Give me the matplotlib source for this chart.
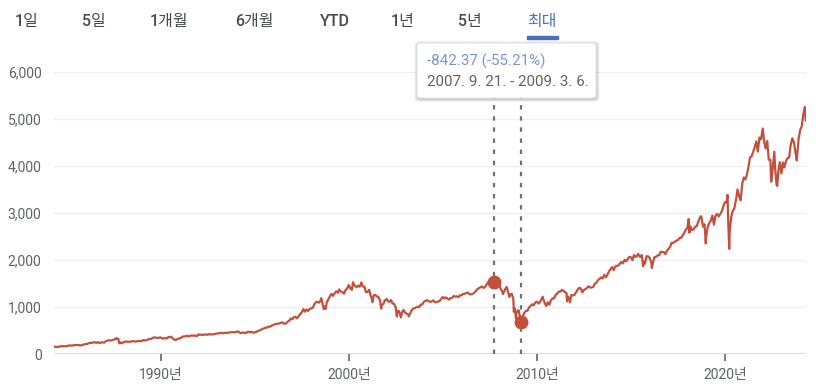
import matplotlib
matplotlib.use("Agg")
import matplotlib.pyplot as plt
from matplotlib.patches import FancyBboxPatch, Rectangle
import pandas as pd

plt.rcParams['font.family'] = ['Roboto', 'Noto Sans CJK KR', 'DejaVu Sans']

# ---- data: S&P 500 month-end closes (approx.) ----
start_month = "1984-04"
closes_1980s = [160.05, 150.55, 153.18, 150.66, 166.68, 166.10, 166.09, 163.58, 167.24,
                179.6, 181.2, 180.7, 179.8, 189.6, 191.9, 190.9, 188.6, 182.1, 189.8, 202.2, 211.3,
                211.8, 226.9, 238.9, 235.5, 247.4, 250.8, 236.1, 252.9, 231.3, 243.0, 249.2, 242.2,
                274.1, 284.2, 291.7, 288.4, 290.1, 304.0, 318.7, 329.8, 321.8, 251.8, 230.3, 247.1,
                257.1, 267.8, 258.9, 261.3, 262.2, 273.5, 272.0, 261.5, 271.9, 279.0, 273.7, 277.7,
                297.5, 288.9, 294.9, 309.6, 320.5, 318.0, 346.1, 351.5, 349.2, 340.4, 346.0, 353.4]
closes_1990s = [329.1, 331.9, 339.9, 330.8, 361.2, 358.0, 356.2, 322.6, 306.1, 304.0, 322.2, 330.2,
                343.9, 367.1, 375.2, 375.3, 389.8, 371.2, 387.8, 395.4, 387.9, 392.5, 375.2, 417.1,
                408.8, 412.7, 403.7, 415.0, 415.4, 408.1, 424.2, 414.0, 417.8, 418.7, 431.4, 435.7,
                438.8, 443.4, 451.7, 440.2, 450.2, 450.5, 448.1, 463.6, 458.9, 467.8, 461.8, 466.5,
                481.6, 467.1, 445.8, 450.9, 456.5, 444.3, 458.3, 475.5, 462.7, 472.4, 453.7, 459.3,
                470.4, 487.4, 500.7, 514.7, 533.4, 544.8, 562.1, 561.9, 584.4, 581.5, 605.4, 615.9,
                636.0, 640.4, 645.5, 654.2, 669.1, 670.6, 639.9, 652.0, 687.3, 705.3, 757.0, 740.7,
                786.2, 790.8, 757.1, 801.3, 848.3, 885.1, 954.3, 899.5, 947.3, 914.6, 955.4, 970.4,
                980.3, 1049.3, 1101.8, 1111.8, 1090.8, 1133.8, 1120.7, 957.3, 1017.0, 1098.7, 1163.6, 1229.2,
                1279.6, 1238.3, 1286.4, 1335.2, 1301.8, 1372.7, 1328.7, 1320.4, 1282.7, 1362.9, 1388.9, 1469.3]
closes_2000s = [1394.5, 1366.4, 1498.6, 1452.4, 1420.6, 1454.6, 1430.8, 1517.7, 1436.5, 1429.4, 1315.2, 1320.3,
                1366.0, 1239.9, 1160.3, 1249.5, 1255.8, 1224.4, 1211.2, 1133.6, 1040.9, 1059.8, 1139.5, 1148.1,
                1130.2, 1106.7, 1147.4, 1076.9, 1067.1, 989.8, 911.6, 916.1, 815.3, 885.8, 936.3, 879.8,
                855.7, 841.2, 848.2, 916.9, 963.6, 974.5, 990.3, 1008.0, 996.0, 1050.7, 1058.2, 1111.9,
                1131.1, 1144.9, 1126.2, 1107.3, 1120.7, 1140.8, 1101.7, 1104.2, 1114.6, 1130.2, 1173.8, 1211.9,
                1181.3, 1203.6, 1180.6, 1156.9, 1191.5, 1191.3, 1234.2, 1220.3, 1228.8, 1207.0, 1249.5, 1248.3,
                1280.1, 1280.7, 1294.9, 1310.6, 1270.1, 1270.2, 1276.7, 1303.8, 1335.9, 1377.9, 1400.6, 1418.3,
                1438.2, 1406.8, 1420.9, 1482.4, 1530.6, 1503.4, 1455.3, 1474.0, 1526.8, 1549.4, 1481.1, 1468.4,
                1378.6, 1330.6, 1322.7, 1385.6, 1400.4, 1280.0, 1267.4, 1282.8, 1166.4, 968.8, 896.2, 903.3,
                825.9, 735.1, 797.9, 872.8, 919.1, 919.3, 987.5, 1020.6, 1057.1, 1036.2, 1095.6, 1115.1]
closes_2010s = [1073.9, 1104.5, 1169.4, 1186.7, 1089.4, 1030.7, 1101.6, 1049.3, 1141.2, 1183.3, 1180.6, 1257.6,
                1286.1, 1327.2, 1325.8, 1363.6, 1345.2, 1320.6, 1292.3, 1218.9, 1131.4, 1253.3, 1247.0, 1257.6,
                1312.4, 1365.7, 1408.5, 1397.9, 1310.3, 1362.2, 1379.3, 1406.6, 1440.7, 1412.2, 1416.2, 1426.2,
                1498.1, 1514.7, 1569.2, 1597.6, 1630.7, 1606.3, 1685.7, 1633.0, 1681.6, 1756.5, 1805.8, 1848.4,
                1782.6, 1859.5, 1872.3, 1884.0, 1923.6, 1960.2, 1930.7, 2003.4, 1972.3, 2018.1, 2067.6, 2058.9,
                1995.0, 2104.5, 2067.9, 2085.5, 2107.4, 2063.1, 2103.8, 1972.2, 1920.0, 2079.4, 2080.4, 2043.9,
                1940.2, 1932.2, 2059.7, 2065.3, 2097.0, 2098.9, 2173.6, 2171.0, 2168.3, 2126.2, 2198.8, 2238.8,
                2278.9, 2363.6, 2362.7, 2384.2, 2411.8, 2423.4, 2470.3, 2471.7, 2519.4, 2575.3, 2647.6, 2673.6,
                2823.8, 2713.8, 2640.9, 2648.1, 2705.3, 2718.4, 2816.3, 2901.5, 2914.0, 2711.7, 2760.2, 2506.9,
                2704.1, 2784.5, 2834.4, 2945.8, 2752.1, 2941.8, 2980.4, 2926.5, 2976.7, 3037.6, 3141.0, 3230.8]
closes_2020s = [3225.5, 2954.2, 2584.6, 2912.4, 3044.3, 3100.3, 3271.1, 3500.3, 3363.0, 3270.0, 3621.6, 3756.1,
                3714.2, 3811.2, 3972.9, 4181.2, 4204.1, 4297.5, 4395.3, 4522.7, 4307.5, 4605.4, 4567.0, 4766.2,
                4515.6, 4373.9, 4530.4, 4131.9, 4132.2, 3785.4, 4130.3, 3955.0, 3585.6, 3872.0, 4080.1, 3839.5,
                4076.6, 3970.2, 4109.3, 4169.5, 4179.8, 4450.4, 4589.0, 4507.7, 4288.1, 4193.8, 4567.8, 4769.8,
                4845.7, 5096.3, 5254.4]

# intra-month highs / lows that show in the daily line
extreme_dates = ["1987-08-25", "1987-10-19", "1987-12-04", "1990-07-16", "1990-10-11",
                 "1998-07-17", "1998-10-08", "2000-03-24", "2000-09-01", "2001-04-04",
                 "2001-09-21", "2002-01-04", "2002-07-23", "2002-10-09", "2003-03-11",
                 "2007-07-19", "2007-08-15", "2007-09-21", "2007-10-09", "2008-03-10",
                 "2008-05-19", "2008-07-15", "2008-10-10", "2008-11-20", "2009-01-06",
                 "2009-03-06", "2009-03-09", "2010-04-23", "2010-07-02", "2011-04-29",
                 "2011-08-08", "2011-10-03", "2015-05-21", "2015-08-25", "2016-02-11",
                 "2018-01-26", "2018-02-08", "2018-09-20", "2018-12-24", "2020-02-19",
                 "2020-03-23", "2022-01-03", "2022-06-16", "2022-08-16", "2022-10-12",
                 "2023-10-27", "2024-04-19", "2024-04-22"]
extreme_values = [336.8, 224.8, 223.9, 369.0, 295.5,
                  1186.8, 959.4, 1527.5, 1520.8, 1103.3,
                  965.8, 1172.5, 797.7, 776.8, 800.7,
                  1553.1, 1406.7, 1525.75, 1565.2, 1273.4,
                  1426.6, 1214.9, 899.2, 752.4, 934.7,
                  683.38, 676.5, 1217.3, 1022.6, 1363.6,
                  1119.5, 1099.2, 2130.8, 1867.6, 1829.1,
                  2872.9, 2581.0, 2930.8, 2351.1, 3386.2,
                  2237.4, 4796.6, 3666.8, 4305.2, 3577.0,
                  4117.4, 4967.2, 5010.6]

# highlighted range
range_start, range_end = "2007-09-21", "2009-03-06"
range_start_value, range_end_value = 1525.75, 683.38
change_text = "-842.37 (-55.21%)"
range_text = "2007. 9. 21. - 2009. 3. 6."

tabs = ["1일", "5일", "1개월", "6개월", "YTD", "1년", "5년", "최대"]
tab_x = [27, 94, 169, 254, 335, 403, 470, 542]
yticks = [0, 1000, 2000, 3000, 4000, 5000, 6000]
xtick_years = [1990, 2000, 2010, 2020]

# ---- build series ----
monthly = closes_1980s + closes_1990s + closes_2000s + closes_2010s + closes_2020s
m_dates = pd.date_range(start=start_month, periods=len(monthly), freq="ME")
s = pd.concat([pd.Series(monthly, index=m_dates),
               pd.Series(extreme_values, index=pd.to_datetime(extreme_dates))]).sort_index()
s = s[~s.index.duplicated(keep="last")]

W, H = 822, 386
fig = plt.figure(figsize=(W / 100, H / 100), dpi=100)
fig.patch.set_facecolor("white")

L, R, B, T = 54, 806, 354, 72
ax = fig.add_axes([L / W, 1 - B / H, (R - L) / W, (B - T) / H])
ax.set_facecolor("white")
line_color = "#c4503c"
ax.plot(s.index, s.values, color=line_color, lw=1.6, solid_joinstyle="round", zorder=3)
ax.set_xlim(s.index[0], s.index[-1])
ax.set_ylim(0, 6000)

for spine in ax.spines.values():
    spine.set_visible(False)
ax.set_yticks(yticks)
ax.set_yticklabels([f"{v:,}" for v in yticks])
ax.tick_params(axis="y", length=0, pad=9, labelsize=10, labelcolor="#5f6368")
for v in yticks[1:]:
    ax.axhline(v, color="#eceff1", lw=0.9, zorder=0)
ax.axhline(0, color="#cfd3d6", lw=1.2, zorder=1)

ax.set_xticks([pd.Timestamp(f"{y}-01-01") for y in xtick_years])
ax.set_xticklabels([f"{y}년" for y in xtick_years])
ax.tick_params(axis="x", length=5, width=1.5, color="#7a7f85", direction="out",
               pad=5, labelsize=10, labelcolor="#5f6368")

# dotted range lines and markers
top_frac = (B - 98) / (B - T)
for d in [range_start, range_end]:
    ax.axvline(pd.Timestamp(d), ymin=0, ymax=top_frac, color="#6e7277", lw=1.6,
               ls=(0, (2, 3)), zorder=2)
ax.plot([pd.Timestamp(range_start), pd.Timestamp(range_end)],
        [range_start_value, range_end_value], "o", ls="none", color=line_color,
        ms=9, zorder=4)

# tabs
for t, x in zip(tabs, tab_x):
    active = t == "최대"
    fig.text(x / W, 1 - 21.5 / H, t, ha="center", va="center", fontsize=11.5,
             fontweight="medium", color="#4a6fc1" if active else "#474b50",
             family=["Roboto", "Noto Sans CJK KR"])
fig.patches.append(Rectangle((527 / W, 1 - 38.5 / H), 31 / W, 2.6 / H,
                             transform=fig.transFigure, color="#4a6fc1"))

# tooltip
bx0, by0, bx1, by1 = 417, 43, 596, 98
for k, a in [(3, 0.05), (2, 0.07), (1, 0.09)]:
    fig.patches.append(FancyBboxPatch(((bx0 - k + 0.5) / W, 1 - (by1 + k + 1) / H),
                                      (bx1 - bx0 + 2 * k) / W, (by1 - by0 + 2 * k) / H,
                                      boxstyle="round,pad=0,rounding_size=0.008",
                                      transform=fig.transFigure, fc="#000000", ec="none",
                                      alpha=a, zorder=5))
fig.patches.append(FancyBboxPatch((bx0 / W, 1 - by1 / H), (bx1 - bx0) / W, (by1 - by0) / H,
                                  boxstyle="round,pad=0,rounding_size=0.006",
                                  transform=fig.transFigure, fc="white", ec="#e3e5e8",
                                  lw=0.8, zorder=6))
fig.text(427 / W, 1 - 61 / H, change_text, ha="left", va="center", fontsize=10.9,
         color="#7895d8", zorder=7)
fig.text(427 / W, 1 - 82 / H, range_text, ha="left", va="center", fontsize=10.9,
         color="#5f6368", zorder=7)

fig.savefig("out.png", dpi=100, facecolor="white")
